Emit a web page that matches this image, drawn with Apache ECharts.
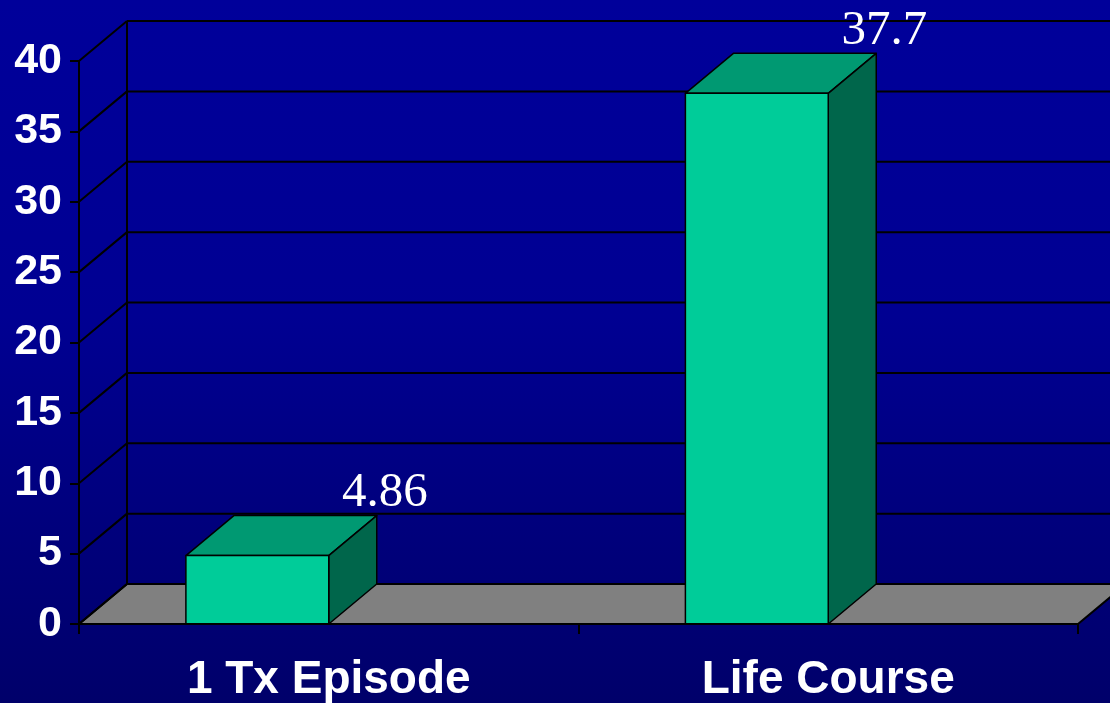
<!DOCTYPE html>
<html><head><meta charset="utf-8">
<script src="https://cdn.jsdelivr.net/npm/echarts@6/dist/echarts.min.js"></script>
<style>
html,body{margin:0;padding:0;width:1110px;height:703px;overflow:hidden;background:linear-gradient(to bottom,#00009a 0%,#000092 45%,#00006a 100%);}
#c{width:1110px;height:703px;}
</style>
</head><body><div id="c"></div>
<script>
const categories = ['1 Tx Episode', 'Life Course'];
const values = [4.86, 37.7];
const valueLabels = ['4.86', '37.7'];
const yTicks = [0, 5, 10, 15, 20, 25, 30, 35, 40];

const DX = 48, DY = -40;
const LINE = '#000000';

const chart = echarts.init(document.getElementById('c'), null, {renderer: 'canvas'});

const option = {
  backgroundColor: 'transparent',
  animation: false,
  grid: {left: 79, right: 32, top: 61, bottom: 77, containLabel: false},
  xAxis: {
    type: 'category',
    data: categories,
    boundaryGap: true,
    z: 6,
    axisLine: {show: true, lineStyle: {color: LINE, width: 2}},
    axisTick: {show: true, alignWithLabel: false, interval: 0, length: 10, lineStyle: {color: LINE, width: 2}},
    axisLabel: {color: '#ffffff', fontFamily: 'Liberation Sans, Arial, sans-serif', fontWeight: 'bold', fontSize: 46, margin: 33},
    splitLine: {show: false}
  },
  yAxis: {
    type: 'value',
    min: 0, max: 40, interval: 5,
    z: 6,
    axisLine: {show: true, lineStyle: {color: LINE, width: 2}},
    axisTick: {show: true, length: 9, lineStyle: {color: LINE, width: 2}},
    axisLabel: {color: '#ffffff', fontFamily: 'Liberation Sans, Arial, sans-serif', fontWeight: 'bold', fontSize: 43, margin: 17},
    splitLine: {show: false}
  },
  series: [
    {
      type: 'custom', z: 1, silent: true, clip: false,
      data: [[0, 0]],
      renderItem: function (params, api) {
        const cs = params.coordSys;
        const x0 = cs.x, x1 = cs.x + cs.width;
        const y0 = api.coord([0, 0])[1];
        const yTop = api.coord([0, yTicks[yTicks.length - 1]])[1];
        return {
          type: 'group',
          children: [
            {type: 'polygon', shape: {points: [[x0, y0], [x1, y0], [x1 + DX, y0 + DY], [x0 + DX, y0 + DY]]},
             style: {fill: '#808080', stroke: LINE, lineWidth: 2}},
            {type: 'line', shape: {x1: x0 + DX, y1: y0 + DY, x2: x0 + DX, y2: yTop + DY},
             style: {stroke: LINE, lineWidth: 2}}
          ]
        };
      }
    },
    {
      type: 'custom', z: 2, silent: true, clip: false,
      data: yTicks.map(v => [0, v]),
      renderItem: function (params, api) {
        const cs = params.coordSys;
        const x0 = cs.x, x1 = cs.x + cs.width;
        const y = api.coord([0, api.value(1)])[1];
        return {
          type: 'group',
          children: [
            {type: 'line', shape: {x1: x0, y1: y, x2: x0 + DX, y2: y + DY}, style: {stroke: LINE, lineWidth: 2}},
            {type: 'line', shape: {x1: x0 + DX, y1: y + DY, x2: x1 + DX, y2: y + DY}, style: {stroke: LINE, lineWidth: 2}}
          ]
        };
      }
    },
    {
      type: 'custom', z: 3, silent: true, clip: false,
      data: values.map((v, i) => [i, v]),
      renderItem: function (params, api) {
        const idx = api.value(0), val = api.value(1);
        const p = api.coord([idx, val]);
        const b = api.coord([idx, 0]);
        const band = api.size([1, 0])[0];
        const xr = p[0], xl = p[0] - band * 0.286;
        const yt = p[1], yb = b[1];
        const st = {stroke: LINE, lineWidth: 1.5, lineJoin: 'round'};
        return {
          type: 'group',
          children: [
            {type: 'polygon', shape: {points: [[xl, yt], [xr, yt], [xr + DX, yt + DY], [xl + DX, yt + DY]]},
             style: Object.assign({fill: '#009972'}, st)},
            {type: 'polygon', shape: {points: [[xr, yt], [xr + DX, yt + DY], [xr + DX, yb + DY], [xr, yb]]},
             style: Object.assign({fill: '#00664b'}, st)},
            {type: 'rect', shape: {x: xl, y: yt, width: xr - xl, height: yb - yt},
             style: Object.assign({fill: '#00cc99'}, st)},
            {type: 'text', x: xr + DX + 8, y: yt + DY + 2,
             style: {text: valueLabels[params.dataIndex], fill: '#ffffff', font: '49px "Liberation Serif", "Times New Roman", serif',
                     textAlign: 'center', textVerticalAlign: 'bottom'}}
          ]
        };
      }
    }
  ]
};
chart.setOption(option);
</script>
</body></html>
